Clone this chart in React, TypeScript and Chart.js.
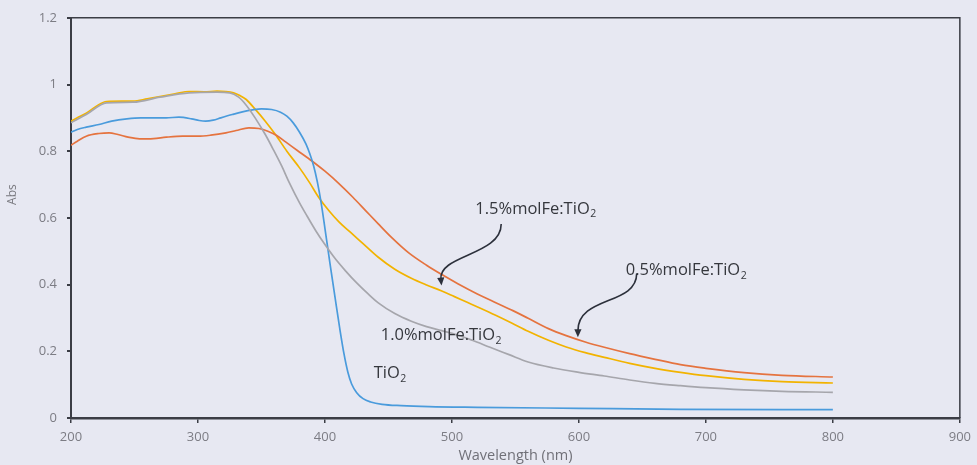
import React, { useEffect, useRef } from "react";
import { Chart, registerables } from "chart.js";

Chart.register(...registerables);

// Absorbance spectra (wavelength in nm, absorbance)
const tio2Wl = [200, 205, 212, 222, 232, 244, 255, 265, 275, 285, 295, 301, 306, 312, 318, 327, 335, 343, 350, 358, 365, 370, 375, 380, 385, 388, 391, 394, 397, 400, 404, 408, 412, 415, 418, 421, 425, 430, 436, 445, 460, 482, 520, 600, 680, 760, 800];
const tio2Abs = [0.857, 0.865, 0.872, 0.88, 0.89, 0.897, 0.9, 0.9, 0.9, 0.902, 0.897, 0.892, 0.89, 0.893, 0.9, 0.91, 0.918, 0.924, 0.927, 0.925, 0.917, 0.905, 0.885, 0.857, 0.822, 0.793, 0.757, 0.708, 0.645, 0.568, 0.462, 0.36, 0.26, 0.192, 0.138, 0.102, 0.076, 0.058, 0.048, 0.041, 0.037, 0.034, 0.032, 0.029, 0.026, 0.025, 0.025];

const fe05Wl = [200, 205, 212, 220, 228, 240, 249, 260, 270, 282, 293, 305, 315, 322, 328, 333, 338, 345, 353, 361, 370, 380, 388, 395, 403, 411, 420, 430, 442, 455, 468, 480, 492, 502, 512, 522, 534, 547, 560, 576, 590, 605, 620, 640, 660, 680, 700, 730, 760, 800];
const fe05Abs = [0.89, 0.9, 0.914, 0.935, 0.949, 0.95, 0.95, 0.957, 0.964, 0.972, 0.979, 0.978, 0.98, 0.979, 0.975, 0.967, 0.955, 0.926, 0.89, 0.85, 0.8, 0.75, 0.705, 0.662, 0.622, 0.588, 0.557, 0.523, 0.482, 0.446, 0.419, 0.399, 0.381, 0.364, 0.347, 0.33, 0.309, 0.285, 0.26, 0.233, 0.213, 0.196, 0.182, 0.164, 0.149, 0.137, 0.127, 0.116, 0.109, 0.105];

const fe10Wl = [200, 212, 228, 249, 270, 293, 315, 325, 332, 338, 345, 353, 360, 366, 372, 380, 386, 393, 400, 408, 416, 425, 434, 442, 455, 468, 480, 492, 505, 516, 530, 545, 560, 580, 600, 620, 640, 660, 680, 700, 730, 760, 800];
const fe10Abs = [0.885, 0.91, 0.945, 0.947, 0.962, 0.975, 0.977, 0.975, 0.962, 0.938, 0.9, 0.85, 0.8, 0.755, 0.705, 0.645, 0.605, 0.56, 0.52, 0.478, 0.442, 0.405, 0.372, 0.345, 0.313, 0.29, 0.274, 0.262, 0.248, 0.233, 0.212, 0.19, 0.168, 0.15, 0.137, 0.126, 0.114, 0.104, 0.097, 0.091, 0.0845, 0.08, 0.077];

const fe15Wl = [200, 205, 212, 222, 230, 237, 245, 254, 265, 275, 288, 300, 310, 322, 330, 340, 348, 355, 362, 369, 378, 390, 400, 411, 422, 432, 442, 452, 466, 480, 492, 505, 520, 535, 548, 560, 576, 590, 605, 620, 640, 660, 680, 700, 730, 760, 800];
const fe15Abs = [0.818, 0.83, 0.845, 0.853, 0.855, 0.85, 0.842, 0.837, 0.838, 0.842, 0.845, 0.845, 0.848, 0.855, 0.862, 0.87, 0.868, 0.86, 0.847, 0.828, 0.803, 0.77, 0.74, 0.703, 0.662, 0.622, 0.582, 0.543, 0.495, 0.458, 0.43, 0.402, 0.372, 0.345, 0.322, 0.299, 0.268, 0.247, 0.228, 0.212, 0.193, 0.176, 0.16, 0.149, 0.136, 0.128, 0.123];

const yTickLabels = ["0", "0.2", "0.4", "0.6", "0.8", "1", "1.2"];

const toPoints = (wl: number[], abs: number[]) => wl.map((x, i) => ({ x, y: abs[i] }));

// Curve labels drawn inside the plot (anchored at wavelength / absorbance)
const curveLabels = [
  { text: "1.5%molFe:TiO", sub: "2", x: 518.4, y: 0.627 },
  { text: "0.5%molFe:TiO", sub: "2", x: 636.9, y: 0.442 },
  { text: "1.0%molFe:TiO", sub: "2", x: 443.9, y: 0.248 },
  { text: "TiO", sub: "2", x: 438.4, y: 0.134 },
];

// Curved pointer arrows (cubic Bézier in data units)
const pointerArrows = [
  { from: [538.8, 0.582], c1: [538.8, 0.487], c2: [489.4, 0.49], to: [491.8, 0.397] },
  { from: [645.5, 0.433], c1: [645.5, 0.337], c2: [599.2, 0.367], to: [599.2, 0.242] },
];

const BG = "#e7e8f2";
const AXIS = "#3b3d45";

const decorPlugin = {
  id: "decor",
  beforeDraw(chart: any) {
    const { ctx, width, height } = chart;
    ctx.save();
    ctx.fillStyle = BG;
    ctx.fillRect(0, 0, width, height);
    ctx.restore();
  },
  afterDraw(chart: any) {
    const { ctx, chartArea, scales } = chart;
    const xs = scales.x;
    const ys = scales.y;
    ctx.save();

    // frame on top and right
    ctx.strokeStyle = AXIS;
    ctx.lineWidth = 1.5;
    ctx.beginPath();
    ctx.moveTo(chartArea.left, chartArea.top);
    ctx.lineTo(chartArea.right, chartArea.top);
    ctx.lineTo(chartArea.right, chartArea.bottom);
    ctx.stroke();

    // y axis title
    ctx.save();
    ctx.translate(13, ys.getPixelForValue(0.67));
    ctx.rotate(-Math.PI / 2);
    ctx.fillStyle = "#7a7a80";
    ctx.font = '12px "Open Sans"';
    ctx.textAlign = "center";
    ctx.textBaseline = "middle";
    ctx.fillText("Abs", 0, 0);
    ctx.restore();

    // curve labels
    ctx.fillStyle = "#35373d";
    ctx.textBaseline = "middle";
    ctx.textAlign = "left";
    for (const lab of curveLabels) {
      const px = xs.getPixelForValue(lab.x);
      const py = ys.getPixelForValue(lab.y);
      ctx.font = '16.5px "Open Sans"';
      ctx.fillText(lab.text, px, py);
      const w = ctx.measureText(lab.text).width;
      ctx.font = '10.5px "Open Sans"';
      ctx.fillText(lab.sub, px + w + 0.5, py + 5.5);
    }

    // arrows
    ctx.strokeStyle = "#2c303b";
    ctx.fillStyle = "#2c303b";
    ctx.lineWidth = 1.6;
    for (const a of pointerArrows) {
      const p0 = [xs.getPixelForValue(a.from[0]), ys.getPixelForValue(a.from[1])];
      const p1 = [xs.getPixelForValue(a.c1[0]), ys.getPixelForValue(a.c1[1])];
      const p2 = [xs.getPixelForValue(a.c2[0]), ys.getPixelForValue(a.c2[1])];
      const p3 = [xs.getPixelForValue(a.to[0]), ys.getPixelForValue(a.to[1])];
      const dx = p3[0] - p2[0];
      const dy = p3[1] - p2[1];
      const len = Math.hypot(dx, dy) || 1;
      const ux = dx / len;
      const uy = dy / len;
      const head = 8;
      const end = [p3[0] - ux * head * 0.8, p3[1] - uy * head * 0.8];
      ctx.beginPath();
      ctx.moveTo(p0[0], p0[1]);
      ctx.bezierCurveTo(p1[0], p1[1], p2[0], p2[1], end[0], end[1]);
      ctx.stroke();
      const bx = p3[0] - ux * head;
      const by = p3[1] - uy * head;
      ctx.beginPath();
      ctx.moveTo(p3[0], p3[1]);
      ctx.lineTo(bx - uy * 3.6, by + ux * 3.6);
      ctx.lineTo(bx + uy * 3.6, by - ux * 3.6);
      ctx.closePath();
      ctx.fill();
    }
    ctx.restore();
  },
};

export default function App() {
  const canvasRef = useRef<HTMLCanvasElement | null>(null);

  useEffect(() => {
    document.body.style.margin = "0";
    document.body.style.background = BG;
    const canvas = canvasRef.current;
    if (!canvas) return;

    const line = (label: string, wl: number[], abs: number[], color: string) => ({
      label,
      data: toPoints(wl, abs),
      borderColor: color,
      backgroundColor: color,
      borderWidth: 1.7,
      pointRadius: 0,
      fill: false,
      cubicInterpolationMode: "monotone" as const,
    });

    const chart = new Chart(canvas, {
      type: "line",
      data: {
        datasets: [
          line("1.0%molFe:TiO2", fe10Wl, fe10Abs, "#a6a6ac"),
          line("TiO2", tio2Wl, tio2Abs, "#4a9bdc"),
          line("1.5%molFe:TiO2", fe15Wl, fe15Abs, "#e5733f"),
          line("0.5%molFe:TiO2", fe05Wl, fe05Abs, "#f2b300"),
        ],
      },
      options: {
        animation: false,
        responsive: false,
        devicePixelRatio: 1,
        parsing: false,
        layout: { padding: { top: 16, right: 14, left: 0, bottom: 0 } },
        plugins: {
          legend: { display: false },
          tooltip: { enabled: false },
        },
        scales: {
          x: {
            type: "linear",
            min: 200,
            max: 900,
            afterFit: (s: any) => {
              s.height = 47;
            },
            ticks: {
              stepSize: 100,
              color: "#7c7c84",
              font: { family: "Open Sans", size: 13 },
              padding: 6,
              maxRotation: 0,
            },
            grid: {
              drawOnChartArea: false,
              drawTicks: true,
              tickLength: 5,
              color: AXIS,
              lineWidth: 1.5,
            },
            border: { color: AXIS, width: 2.5 },
            title: {
              display: true,
              text: "Wavelength (nm)",
              color: "#707078",
              font: { family: "Open Sans", size: 14.5 },
              padding: { top: 0, bottom: 0 },
            },
          },
          y: {
            type: "linear",
            min: 0,
            max: 1.2,
            afterFit: (s: any) => {
              s.width = 71;
            },
            ticks: {
              stepSize: 0.2,
              color: "#7c7c84",
              font: { family: "Open Sans", size: 13 },
              padding: 10,
              callback: (v: any) => {
                const idx = Math.round(Number(v) / 0.2);
                return yTickLabels[idx] ?? "";
              },
            },
            grid: {
              drawOnChartArea: false,
              drawTicks: true,
              tickLength: 4,
              color: AXIS,
              lineWidth: 2,
            },
            border: { color: AXIS, width: 2 },
          },
        },
      },
      plugins: [decorPlugin],
    });

    return () => chart.destroy();
  }, []);

  return (
    <div style={{ position: "absolute", left: 0, top: 0, width: 977, height: 465 }}>
      <canvas ref={canvasRef} width={977} height={465} style={{ width: 977, height: 465 }} />
    </div>
  );
}
